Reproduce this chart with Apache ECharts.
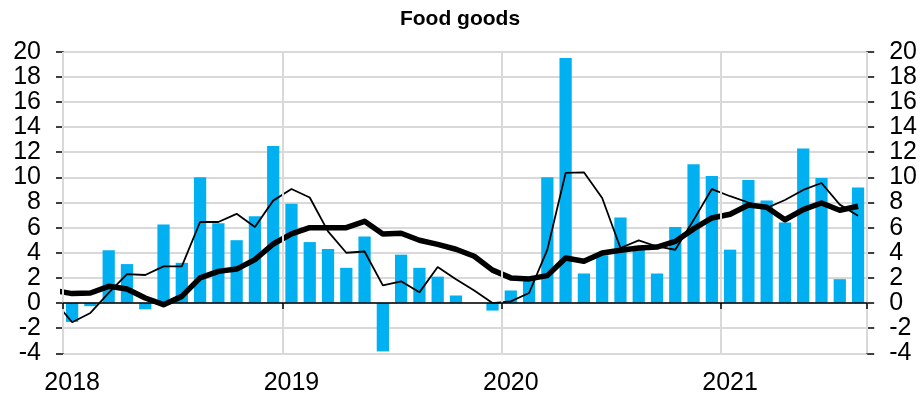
<!DOCTYPE html>
<html>
<head>
<meta charset="utf-8">
<script src="https://cdn.jsdelivr.net/npm/echarts@6/dist/echarts.min.js"></script>
<style>html,body{margin:0;padding:0;background:#fff}#c{width:920px;height:398px}</style>
</head>
<body>
<div id="c"></div>
<script>
var months = [];
for (var y = 2018; y <= 2021; y++) {
  for (var m = 1; m <= 12; m++) {
    if (y === 2021 && m > 8) break;
    months.push(y + '-' + (m < 10 ? '0' + m : m));
  }
}
var monthly = [
  -1.5, -0.25, 4.2, 3.1, -0.5, 6.25, 3.2, 10.0, 6.35, 5.0, 6.9, 12.5,
  7.9, 4.85, 4.3, 2.8, 5.3, -3.85, 3.85, 2.8, 2.1, 0.6, 0.0, -0.6,
  1.0, 2.1, 10.0, 19.5, 2.35, 3.8, 6.8, 4.3, 2.35, 6.05, 11.05, 10.1,
  4.25, 9.8, 8.15, 6.4, 12.3, 9.95, 1.9, 9.2
];
// thin line: value for Dec 2017 first, then Jan 2018 onwards
var thinLine = [
  0.2,
  -1.53, -0.79, 0.8, 2.3, 2.23, 2.92, 2.92, 6.45, 6.45, 7.1, 6.05, 8.15,
  9.07, 8.4, 5.7, 4.0, 4.1, 1.4, 1.73, 0.85, 2.87, 1.9, 1.0, 0.0,
  0.13, 0.8, 4.25, 10.35, 10.4, 8.36, 4.38, 4.99, 4.5, 4.24, 6.6, 9.07,
  8.5, 8.0, 7.56, 8.2, 9.0, 9.55, 7.83, 6.95
];
var thickLine = [
  1.0,
  0.75, 0.8, 1.33, 1.12, 0.4, -0.13, 0.53, 2.0, 2.52, 2.7, 3.45, 4.7,
  5.5, 6.0, 6.0, 6.0, 6.5, 5.5, 5.55, 5.0, 4.67, 4.28, 3.72, 2.62,
  2.0, 1.92, 2.18, 3.58, 3.32, 3.98, 4.2, 4.38, 4.45, 4.9, 5.9, 6.77,
  7.06, 7.8, 7.62, 6.63, 7.43, 7.96, 7.38, 7.7
];
var yMin = -4, yMax = 20, yStep = 2;

function toXY(arr) {
  // index 0 is the month before the first category
  return arr.map(function (v, i) { return [i - 0.5, v]; });
}

var FONT = '"Liberation Sans", Arial, sans-serif';
var chart = echarts.init(document.getElementById('c'), null, {renderer: 'canvas'});
var yearTick = function (idx) { return idx % 12 === 0; };
var yAxisCommon = {
  type: 'value', min: yMin, max: yMax, interval: yStep,
  axisLine: {show: true, onZero: false, lineStyle: {color: '#000', width: 1.5}},
  axisTick: {show: true, inside: false, length: 7, lineStyle: {color: '#000', width: 1.5}},
  axisLabel: {color: '#000', fontSize: 25, fontFamily: FONT, margin: 22}
};
chart.setOption({
  animation: false,
  title: {
    text: 'Food goods', left: 'center', top: 4,
    textStyle: {fontFamily: FONT, fontSize: 21, fontWeight: 'bold', color: '#000'}
  },
  grid: {left: 63, right: 49, top: 51.7, bottom: 44.7, containLabel: false},
  xAxis: [
    {
      type: 'category', data: months, boundaryGap: true, z: 5,
      axisLine: {show: true, onZero: true, lineStyle: {color: '#000', width: 1.5}},
      axisTick: {show: true, interval: yearTick, length: 6, lineStyle: {color: '#000', width: 1.5}},
      axisLabel: {show: false},
      splitLine: {show: true, interval: yearTick, lineStyle: {color: '#d9d9d9', width: 2}}
    },
    {
      type: 'category', data: months, boundaryGap: true, position: 'bottom',
      axisLine: {show: false, onZero: false},
      axisTick: {show: false},
      splitLine: {show: false},
      axisLabel: {
        show: true, interval: function (idx) { return idx % 12 === 0; },
        formatter: function (v) { return v.slice(0, 4); },
        color: '#000', fontSize: 25, fontFamily: FONT, margin: 17
      }
    },
    {
      type: 'value', min: 0, max: months.length, show: false
    }
  ],
  yAxis: [
    Object.assign({}, yAxisCommon, {
      position: 'left',
      splitLine: {show: true, lineStyle: {color: '#d9d9d9', width: 2}}
    }),
    Object.assign({}, yAxisCommon, {
      position: 'right',
      splitLine: {show: false}
    })
  ],
  series: [
    {
      type: 'bar', xAxisIndex: 0, yAxisIndex: 0, data: monthly,
      barCategoryGap: '33%', itemStyle: {color: '#00b0f0'}
    },
    {
      type: 'line', xAxisIndex: 2, yAxisIndex: 0, data: toXY(thinLine),
      showSymbol: false, symbol: 'none', clip: true,
      lineStyle: {color: '#000', width: 1.8}, z: 3
    },
    {
      type: 'line', xAxisIndex: 2, yAxisIndex: 0, data: toXY(thickLine),
      showSymbol: false, symbol: 'none', clip: true,
      lineStyle: {color: '#000', width: 5.5, join: 'round'}, z: 4
    }
  ]
});
</script>
</body>
</html>
